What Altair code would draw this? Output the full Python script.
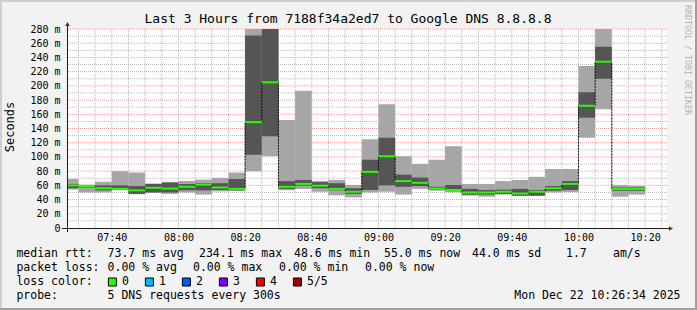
import altair as alt
import pandas as pd

# ---------------- data ----------------
slot_start = ["07:25", "07:30", "07:35", "07:40", "07:45", "07:50", "07:55",
              "08:00", "08:05", "08:10", "08:15", "08:20", "08:25", "08:30",
              "08:35", "08:40", "08:45", "08:50", "08:55", "09:00", "09:05",
              "09:10", "09:15", "09:20", "09:25", "09:30", "09:35", "09:40",
              "09:45", "09:50", "09:55", "10:00", "10:05", "10:10", "10:15"]
ping_min = [54, 50, 50, 53, 47.5, 49.5, 48, 50, 47, 51.5, 52, 80, 101, 53, 55,
            51, 46, 43, 50, 51, 47, 55, 52.5, 50.5, 45.5, 44, 47, 45, 45, 50,
            50.5, 127, 167, 44, 47]
ping_lo = [56, 57, 53, 54, 48, 50, 50, 53, 53, 53.5, 53, 103, 129, 55, 59.5,
           56, 53, 48, 53.5, 60, 58, 59, 54, 52, 47, 47, 48, 45.5, 45.5, 52.5,
           53.5, 155, 210, 52.5, 52.5]
median = [60, 59, 56, 55, 53, 56.5, 55.5, 58, 61, 57, 55, 149, 205, 58, 62,
          59.5, 55, 51, 79, 101, 66, 63.5, 55.5, 53.5, 50, 50, 51, 48.5, 51,
          56, 62, 172, 234, 55, 55]
ping_hi = [62, 60, 60, 60, 59, 62, 64, 62, 63, 63, 69, 271, 290, 66, 67.5,
           64.5, 63, 56, 96, 127, 75, 71, 58, 60.5, 55, 53.5, 54, 55, 53.5, 59,
           66, 191, 255, 57, 57]
ping_max = [69, 61, 65, 80, 78, 62.5, 64.5, 66, 68, 70.5, 78, 295, 310, 152,
            193, 66, 67.5, 60.5, 125, 174, 101, 90, 96, 115, 62, 62, 66, 67.5,
            72, 83, 83, 228, 285, 60.5, 59.5]

window_start = "07:26:34"
window_end = "10:26:34"
x_label_times = ["07:40", "08:00", "08:20", "08:40", "09:00", "09:20",
                 "09:40", "10:00", "10:20"]
y_ticks = [0, 20, 40, 60, 80, 100, 120, 140, 160, 180, 200, 220, 240, 260, 280]

title_text = "Last 3 Hours from 7188f34a2ed7 to Google DNS 8.8.8.8"
loss_names = ["0", "1", "2", "3", "4", "5/5"]
loss_colors = ["#26ff00", "#00b8ff", "#0059ff", "#7e00ff", "#ff0000", "#a10000"]


def to_min(s):
    p = s.split(":")
    sec = int(p[2]) if len(p) > 2 else 0
    return (int(p[0]) - 7) * 60 + int(p[1]) + sec / 60.0


starts = [to_min(s) for s in slot_start]
ends = [s + 5 for s in starts]
df = pd.DataFrame({"t0": starts, "t1": ends, "mn": ping_min, "lo": ping_lo,
                   "md": median, "hi": ping_hi, "mx": ping_max})
df_line = pd.DataFrame({"t0": starts + [ends[-1]], "md": median + [median[-1]]})

x0, x1 = to_min(window_start), to_min(window_end)
minor_x = [v for v in range(30, 210, 5) if v % 20 != 0 and x0 <= v <= x1]
major_x = [v for v in range(40, 210, 20) if x0 <= v <= x1]
minor_y = [v for v in range(10, 280, 20)]
major_y = [v for v in range(20, 281, 20)]

MONO = "DejaVu Sans Mono"
W, H = 600, 199
PL, PT = 67, 29

xs = alt.Scale(domain=[x0, x1], nice=False, zero=False)
ys = alt.Scale(domain=[0, 280], nice=False, zero=True)

x_expr = ("(floor(datum.value/60)+7 < 10 ? '0' : '') + (floor(datum.value/60)+7)"
          " + ':' + (datum.value%60 < 10 ? '0' : '') + (datum.value%60)")
x_axis = alt.Axis(values=[to_min(t) for t in x_label_times], labelExpr=x_expr,
                  grid=False, ticks=False, domain=False, labelFont=MONO,
                  labelFontSize=10, labelColor="black", labelPadding=4,
                  labelOverlap=False, labelFlush=False, title="")
y_axis = alt.Axis(values=y_ticks,
                  labelExpr="datum.value == 0 ? '0\u00a0\u00a0' : datum.value + ' m'",
                  grid=False, ticks=False, domain=False, labelFont=MONO,
                  labelFontSize=10, labelColor="black", labelPadding=7,
                  labelOverlap=False, labelFlush=False, title="")


def X(f):
    return alt.X(f, scale=xs, axis=x_axis, title="")


def Y(f):
    return alt.Y(f, scale=ys, axis=y_axis, title="")


layers = []

# grid
layers.append(alt.Chart(pd.DataFrame({"t0": minor_x})).mark_rule(
    color="#b9b9b9", strokeDash=[1, 1], strokeWidth=1).encode(x=X("t0:Q")))
layers.append(alt.Chart(pd.DataFrame({"mn": minor_y})).mark_rule(
    color="#b9b9b9", strokeDash=[1, 1], strokeWidth=1).encode(y=Y("mn:Q")))
layers.append(alt.Chart(pd.DataFrame({"t0": major_x})).mark_rule(
    color="#efa0a0", strokeDash=[1, 1], strokeWidth=1).encode(x=X("t0:Q")))
layers.append(alt.Chart(pd.DataFrame({"mn": major_y})).mark_rule(
    color="#efa0a0", strokeDash=[1, 1], strokeWidth=1).encode(y=Y("mn:Q")))

# smoke
layers.append(alt.Chart(df).mark_rect(color="#a6a6a6", clip=True, strokeWidth=0).encode(
    x=X("t0:Q"), x2="t1:Q", y=Y("mn:Q"), y2="mx:Q"))
layers.append(alt.Chart(df).mark_rect(color="#555555", clip=True, strokeWidth=0).encode(
    x=X("t0:Q"), x2="t1:Q", y=Y("lo:Q"), y2="hi:Q"))
# median step line and green median segments
layers.append(alt.Chart(df_line).mark_line(
    interpolate="step-after", color="black", strokeWidth=1, strokeDash=[2, 1],
    clip=True).encode(x=X("t0:Q"), y=Y("md:Q")))
layers.append(alt.Chart(df).mark_rule(color="#26ff00", strokeWidth=2, clip=True).encode(
    x=X("t0:Q"), x2="t1:Q", y=Y("md:Q")))

one = alt.Data(values=[{"k": 1}])


def rule(xa, ya, xb=None, yb=None, color="#1f1f1f", width=1):
    enc = {"x": alt.value(xa), "y": alt.value(ya)}
    if xb is not None:
        enc["x2"] = alt.value(xb)
    if yb is not None:
        enc["y2"] = alt.value(yb)
    return alt.Chart(one).mark_rule(color=color, strokeWidth=width).encode(**enc)


# axes lines + arrows
layers.append(rule(0.5, -3, yb=H + 4))
layers.append(rule(-5, H + 0.5, xb=W + 2))
layers.append(alt.Chart(one).mark_point(shape="triangle-up", filled=True, size=22,
                                        color="#801f1f", opacity=1).encode(
    x=alt.value(0.5), y=alt.value(-5)))
layers.append(alt.Chart(one).mark_point(shape="triangle-right", filled=True, size=22,
                                        color="#801f1f", opacity=1).encode(
    x=alt.value(W + 4), y=alt.value(H + 0.5)))

# outer frame (3D border)
TW, TH = 697, 310
layers.append(rule(-PL, -PT + 1, xb=TW - PL, color="#cfcfcf", width=2))
layers.append(rule(-PL + 1, -PT, yb=TH - PT, color="#cfcfcf", width=2))
layers.append(rule(-PL, TH - PT - 1, xb=TW - PL, color="#9e9e9e", width=2))
layers.append(rule(TW - PL - 1, -PT, yb=TH - PT, color="#9e9e9e", width=2))


def text(s, x, y, size=11.5, align="left", angle=0, color="black"):
    props = dict(font=MONO, fontSize=size, align=align, baseline="middle", color=color)
    if angle:
        props["angle"] = angle
    return alt.Chart(alt.Data(values=[{"t": s}])).mark_text(**props).encode(
        x=alt.value(x - PL), y=alt.value(y - PT), text="t:N")


layers.append(text(title_text, 348, 18.5, size=13, align="center"))
layers.append(text("Seconds", 10, 127, size=12, align="center", angle=270))
layers.append(text("RRDTOOL / TOBI OETIKER", 686.5, 60, size=8.3, align="center",
                   angle=90, color="#b4b4b4"))

legend_lines = [
    (254, [(16.4, "median rtt:"), (107.6, "73.7 ms avg"), (199, "234.1 ms max"),
           (294, "48.6 ms min"), (384, "55.0 ms now"), (472, "44.0 ms sd"),
           (566, "1.7"), (613, "am/s")]),
    (268, [(16.4, "packet loss:"), (107.6, "0.00 % avg"), (193, "0.00 % max"),
           (279, "0.00 % min"), (365, "0.00 % now")]),
    (282, [(16.4, "loss color:")]),
    (296, [(16.4, "probe:"), (107.6, "5 DNS requests every 300s")]),
]
for y, segs in legend_lines:
    for x, s in segs:
        layers.append(text(s, x, y))
layers.append(text("Mon Dec 22 10:26:34 2025", 680.5, 296, align="right"))

for i, (name, col) in enumerate(zip(loss_names, loss_colors)):
    bx = 108.4 + i * 37.0
    layers.append(alt.Chart(one).mark_rect(fill=col, stroke="black", strokeWidth=1).encode(
        x=alt.value(bx - PL), x2=alt.value(bx + 8 - PL),
        y=alt.value(278 - PT), y2=alt.value(286 - PT)))
    layers.append(text(name, bx + 13.6, 282))

chart = alt.layer(*layers).properties(
    width=W, height=H,
    autosize=alt.AutoSizeParams(type="none"),
    padding={"left": PL, "top": PT, "right": TW - PL - W, "bottom": TH - PT - H},
    background="#f2f2f2",
).configure_view(fill="white", strokeWidth=0)

chart.save("out.html", embed_options={"renderer": "svg", "actions": False})
